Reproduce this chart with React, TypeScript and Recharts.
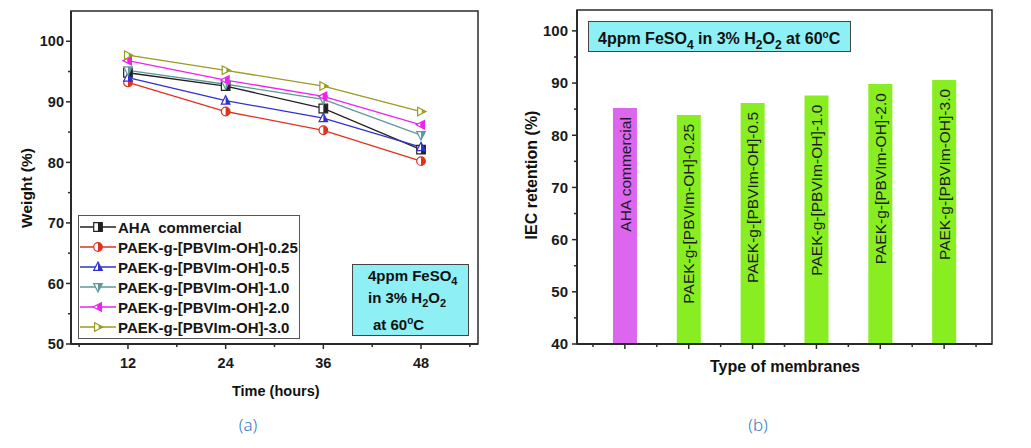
import React from 'react';
import { LineChart, Line, XAxis, YAxis, Legend, BarChart, Bar, Cell, LabelList, ReferenceArea } from 'recharts';

// (a) weight loss in Fenton's reagent
const hours = [12, 24, 36, 48];
const ahaCommercial = [94.8, 92.6, 88.9, 82.1];
const paek025 = [93.2, 88.4, 85.3, 80.2];
const paek05 = [94.0, 90.2, 87.3, 82.5];
const paek10 = [95.2, 92.9, 90.4, 84.5];
const paek20 = [96.8, 93.6, 90.9, 86.2];
const paek30 = [97.7, 95.2, 92.6, 88.4];

const seriesNames = [
  'AHA  commercial',
  'PAEK-g-[PBVIm-OH]-0.25',
  'PAEK-g-[PBVIm-OH]-0.5',
  'PAEK-g-[PBVIm-OH]-1.0',
  'PAEK-g-[PBVIm-OH]-2.0',
  'PAEK-g-[PBVIm-OH]-3.0',
];
const seriesColors = ['#222222', '#e0301e', '#3030d0', '#5f9898', '#ee22ee', '#9a9a22'];
const seriesShapes = ['square', 'circle', 'up', 'down', 'left', 'right'];

const weightTicks = [50, 55, 60, 65, 70, 75, 80, 85, 90, 95, 100];
const hourTicks = [6, 12, 18, 24, 30, 36, 42, 48, 54];

// (b) IEC retention
const membranes = [
  'AHA commercial',
  'PAEK-g-[PBVIm-OH]-0.25',
  'PAEK-g-[PBVIm-OH]-0.5',
  'PAEK-g-[PBVIm-OH]-1.0',
  'PAEK-g-[PBVIm-OH]-2.0',
  'PAEK-g-[PBVIm-OH]-3.0',
];
const iecRetention = [85.2, 83.9, 86.2, 87.6, 89.8, 90.6];
const membraneColors = ['#dd66ee', '#88ee22', '#88ee22', '#88ee22', '#88ee22', '#88ee22'];
const retentionTicks = [40, 45, 50, 55, 60, 65, 70, 75, 80, 85, 90, 95, 100];
const membraneTicks = [-0.5, 0, 0.5, 1, 1.5, 2, 2.5, 3, 3.5, 4, 4.5, 5, 5.5];

const seriesValues = [ahaCommercial, paek025, paek05, paek10, paek20, paek30];
const weightData = hours.map((h, i) => {
  const row: Record<string, number> = { hours: h };
  seriesValues.forEach((vals, s) => {
    row['s' + s] = vals[i];
  });
  return row;
});
const retentionData = membranes.map((m, i) => ({ idx: i, name: m, value: iecRetention[i] }));

const FONT = 'Arial, "Liberation Sans", Helvetica, sans-serif';
const AXIS = '#2a2a2a';

function shapePath(shape: string, cx: number, cy: number, r: number) {
  const a = r * 1.15;
  const b = r * 0.8;
  switch (shape) {
    case 'square':
      return `M${cx - r},${cy - r}h${2 * r}v${2 * r}h${-2 * r}Z`;
    case 'circle':
      return `M${cx - r},${cy}A${r},${r} 0 1 0 ${cx + r},${cy}A${r},${r} 0 1 0 ${cx - r},${cy}Z`;
    case 'up':
      return `M${cx},${cy - a}L${cx + r},${cy + b}L${cx - r},${cy + b}Z`;
    case 'down':
      return `M${cx},${cy + a}L${cx + r},${cy - b}L${cx - r},${cy - b}Z`;
    case 'left':
      return `M${cx - a},${cy}L${cx + b},${cy - r}L${cx + b},${cy + r}Z`;
    default:
      return `M${cx + a},${cy}L${cx - b},${cy - r}L${cx - b},${cy + r}Z`;
  }
}

function Marker({ cx, cy, color, shape }: { cx: number; cy: number; color: string; shape: string }) {
  const d = shapePath(shape, cx, cy, 4.3);
  return (
    <g>
      <path d={d} fill="#fff" stroke={color} strokeWidth={1.2} />
      <path d={d} fill={color} clipPath="url(#rightHalf)" />
    </g>
  );
}

function WeightTick(props: any) {
  const { x, y, payload } = props;
  const major = payload.value % 10 === 0;
  return (
    <g>
      <line x1={x} x2={x - (major ? 5 : 3)} y1={y} y2={y} stroke={AXIS} strokeWidth={1.5} />
      {major && (
        <text x={x - 7} y={y} dy="0.36em" textAnchor="end" fontFamily={FONT} fontWeight="bold" fontSize={14.5} fill="#1a1a1a">
          {payload.value}
        </text>
      )}
    </g>
  );
}

function HourTick(props: any) {
  const { x, y, payload } = props;
  const major = payload.value % 12 === 0;
  return (
    <g>
      <line x1={x} x2={x} y1={y} y2={y + (major ? 5 : 3)} stroke={AXIS} strokeWidth={1.5} />
      {major && (
        <text x={x} y={y + 19} dy="0.36em" textAnchor="middle" fontFamily={FONT} fontWeight="bold" fontSize={14.5} fill="#1a1a1a">
          {payload.value}
        </text>
      )}
    </g>
  );
}

function RetentionTick(props: any) {
  const { x, y, payload } = props;
  const major = payload.value % 10 === 0;
  return (
    <g>
      <line x1={x} x2={x - (major ? 5 : 3)} y1={y} y2={y} stroke={AXIS} strokeWidth={1.5} />
      {major && (
        <text x={x - 9} y={y} dy="0.36em" textAnchor="end" fontFamily={FONT} fontWeight="bold" fontSize={15} fill="#1a1a1a">
          {payload.value}
        </text>
      )}
    </g>
  );
}

function MembraneTick(props: any) {
  const { x, y, payload } = props;
  const major = Number.isInteger(payload.value);
  return <line x1={x} x2={x} y1={y} y2={y + (major ? 5 : 3)} stroke={AXIS} strokeWidth={1.5} />;
}

function renderLegend() {
  return (
    <div style={{ border: '1.5px solid #555', background: '#fff', padding: '1px 0 1px 0', width: 220, fontFamily: FONT }}>
      {seriesNames.map((n, i) => (
        <div key={n} style={{ display: 'flex', alignItems: 'center', height: 20 }}>
          <svg width={38} height={20} style={{ flex: 'none' }}>
            <line x1={1} x2={37} y1={10} y2={10} stroke={seriesColors[i]} strokeWidth={1.3} />
            <Marker cx={19} cy={10} color={seriesColors[i]} shape={seriesShapes[i]} />
          </svg>
          <span style={{ fontWeight: 'bold', fontSize: 15, color: '#151515', marginLeft: 1, whiteSpace: 'pre' }}>{n}</span>
        </div>
      ))}
    </div>
  );
}

const boxStyle: React.CSSProperties = {
  position: 'absolute',
  background: '#8ef0f4',
  border: '1.5px solid #444',
  fontFamily: FONT,
  fontWeight: 'bold',
  color: '#111',
  boxSizing: 'border-box',
};

const titleStyle: React.CSSProperties = {
  position: 'absolute',
  fontFamily: FONT,
  fontWeight: 'bold',
  color: '#111',
  whiteSpace: 'nowrap',
};

export default function App() {
  return (
    <div style={{ position: 'absolute', left: 0, top: 0, width: 1031, height: 448, background: '#fff' }}>
      <svg width={0} height={0} style={{ position: 'absolute' }}>
        <defs>
          <clipPath id="rightHalf" clipPathUnits="objectBoundingBox">
            <rect x={0.5} y={-0.1} width={0.6} height={1.2} />
          </clipPath>
        </defs>
      </svg>

      {/* (a) */}
      <div style={{ position: 'absolute', left: 0, top: 0 }}>
        <LineChart width={490} height={374} data={weightData} margin={{ top: 11, right: 12, left: 11, bottom: 0 }}>
          <ReferenceArea x1={5} x2={55} y1={50} y2={105} fill="none" stroke={AXIS} strokeWidth={1.5} fillOpacity={0} />
          <XAxis
            dataKey="hours"
            type="number"
            domain={[5, 55]}
            ticks={hourTicks}
            interval={0}
            tickSize={0}
            tickMargin={0}
            tickLine={false}
            tick={HourTick}
            height={30}
            axisLine={{ stroke: AXIS, strokeWidth: 2 }}
          />
          <YAxis
            type="number"
            domain={[50, 105]}
            ticks={weightTicks}
            interval={0}
            tickSize={0}
            tickMargin={0}
            tickLine={false}
            tick={WeightTick}
            width={60}
            axisLine={{ stroke: AXIS, strokeWidth: 2 }}
          />
          {seriesNames.map((n, s) => (
            <Line
              key={n}
              name={n}
              dataKey={'s' + s}
              stroke={seriesColors[s]}
              strokeWidth={1.3}
              isAnimationActive={false}
              dot={(p: any) => <Marker key={p.index} cx={p.cx} cy={p.cy} color={seriesColors[s]} shape={seriesShapes[s]} />}
              activeDot={false}
            />
          ))}
          <Legend layout="vertical" align="center" verticalAlign="middle" content={renderLegend} wrapperStyle={{ left: 78, top: 215, width: 224 }} />
        </LineChart>
      </div>
      <div style={{ ...boxStyle, left: 352, top: 264, width: 117, height: 72, fontSize: 15 }}>
        <div style={{ position: 'absolute', left: 15, top: 2 }}>
          4ppm FeSO<sub style={{ fontSize: 11 }}>4</sub>
        </div>
        <div style={{ position: 'absolute', left: 15, top: 24 }}>
          in 3% H<sub style={{ fontSize: 11 }}>2</sub>O<sub style={{ fontSize: 11 }}>2</sub>
        </div>
        <div style={{ position: 'absolute', left: 20, top: 50 }}>
          at 60<sup style={{ fontSize: 10 }}>o</sup>C
        </div>
      </div>
      <div style={{ ...titleStyle, left: 232, top: 383, fontSize: 14.5 }}>Time (hours)</div>
      <div style={{ ...titleStyle, left: 27, top: 188, fontSize: 15.5, transform: 'translate(-50%, -50%) rotate(-90deg)' }}>Weight (%)</div>

      {/* (b) */}
      <div style={{ position: 'absolute', left: 500, top: 0 }}>
        <BarChart width={500} height={374} data={retentionData} margin={{ top: 10, right: 8, left: 12, bottom: 0 }}>
          <ReferenceArea x1={-0.75} x2={5.75} y1={40} y2={104} fill="none" stroke={AXIS} strokeWidth={1.5} fillOpacity={0} />
          <XAxis
            dataKey="idx"
            type="number"
            domain={[-0.75, 5.75]}
            ticks={membraneTicks}
            interval={0}
            tickSize={0}
            tickMargin={0}
            tickLine={false}
            tick={MembraneTick}
            height={30}
            axisLine={{ stroke: AXIS, strokeWidth: 2 }}
          />
          <YAxis
            type="number"
            domain={[40, 104]}
            ticks={retentionTicks}
            interval={0}
            tickSize={0}
            tickMargin={0}
            tickLine={false}
            tick={RetentionTick}
            width={65}
            axisLine={{ stroke: AXIS, strokeWidth: 2 }}
          />
          <Bar dataKey="value" barSize={24} isAnimationActive={false}>
            {retentionData.map((d, i) => (
              <Cell key={d.name} fill={membraneColors[i]} />
            ))}
            <LabelList
              dataKey="name"
              content={(p: any) => {
                const cx = p.x + p.width / 2;
                const ty = p.y + 9;
                return (
                  <text
                    x={cx}
                    y={ty}
                    dy="0.36em"
                    transform={`rotate(-90 ${cx} ${ty})`}
                    textAnchor="end"
                    fontFamily={FONT}
                    fontSize={15.5}
                    fill="#1c1c1c"
                  >
                    {p.value}
                  </text>
                );
              }}
            />
          </Bar>
        </BarChart>
      </div>
      <div style={{ ...boxStyle, left: 588, top: 21, width: 263, height: 31, fontSize: 16, paddingLeft: 9, lineHeight: '26px' }}>
        4ppm FeSO<sub style={{ fontSize: 12 }}>4</sub> in 3% H<sub style={{ fontSize: 12 }}>2</sub>O<sub style={{ fontSize: 12 }}>2</sub> at 60<sup style={{ fontSize: 10 }}>o</sup>C
      </div>
      <div style={{ ...titleStyle, left: 710, top: 358, fontSize: 16 }}>Type of membranes</div>
      <div style={{ ...titleStyle, left: 532, top: 175, fontSize: 16, transform: 'translate(-50%, -50%) rotate(-90deg)' }}>IEC retention (%)</div>

      <div style={{ position: 'absolute', left: 248, top: 424, transform: 'translate(-50%, -50%)', fontFamily: '"Noto Sans", sans-serif', fontWeight: 300, fontSize: 17, color: '#3a7cc8' }}>(a)</div>
      <div style={{ position: 'absolute', left: 758, top: 424, transform: 'translate(-50%, -50%)', fontFamily: '"Noto Sans", sans-serif', fontWeight: 300, fontSize: 17, color: '#3a7cc8' }}>(b)</div>
    </div>
  );
}
